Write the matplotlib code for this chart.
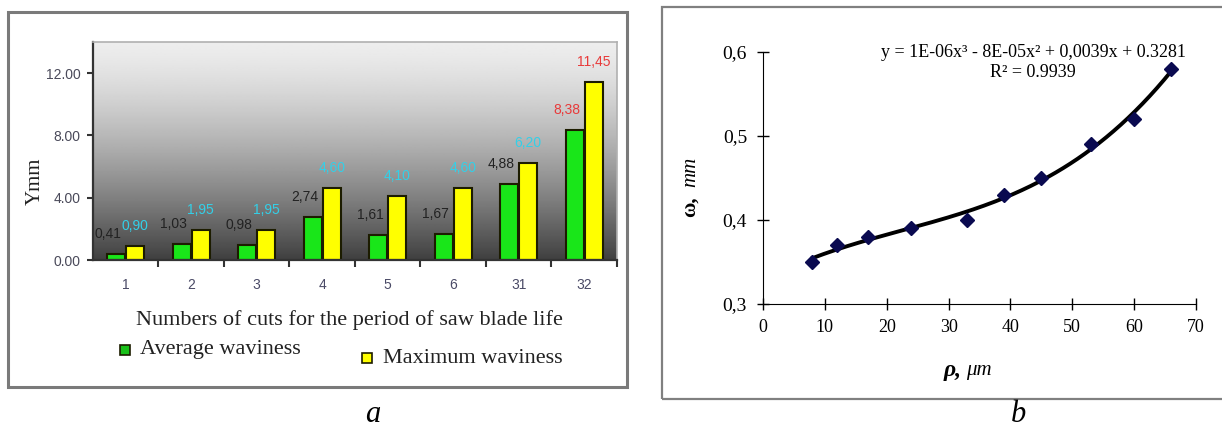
import numpy as np
import matplotlib
matplotlib.use('Agg')
import matplotlib.pyplot as plt
from matplotlib import font_manager
from matplotlib.patches import Rectangle

# --- panel a: waviness per number of cuts
cuts = ['1', '2', '3', '4', '5', '6', '31', '32']
avg_wav = [0.41, 1.03, 0.98, 2.74, 1.61, 1.67, 4.88, 8.38]
max_wav = [0.90, 1.95, 1.95, 4.60, 4.10, 4.60, 6.20, 11.45]
avg_lbl = ['0,41', '1,03', '0,98', '2,74', '1,61', '1,67', '4,88', '8,38']
max_lbl = ['0,90', '1,95', '1,95', '4,60', '4,10', '4,60', '6,20', '11,45']
y_ticks_a = [0, 4, 8, 12]
y_ticklabels_a = ['0.00', '4.00', '8.00', '12.00']

# --- panel b: omega vs rho
rho = [8, 12, 17, 24, 33, 39, 45, 53, 60, 66]
omega = [0.35, 0.37, 0.38, 0.39, 0.40, 0.43, 0.45, 0.49, 0.52, 0.58]
y_ticks_b = [0.3, 0.4, 0.5, 0.6]
y_ticklabels_b = ['0,3', '0,4', '0,5', '0,6']
x_ticks_b = [0, 10, 20, 30, 40, 50, 60, 70]

names = {f.name for f in font_manager.fontManager.ttflist}
narrow = 'Liberation Sans Narrow' if 'Liberation Sans Narrow' in names else 'Liberation Sans'
serif = ['Liberation Serif', 'DejaVu Serif']

fig = plt.figure(figsize=(12.22, 4.37), dpi=100)

# frames around both panels
fig.patches.append(Rectangle((0.0066, 0.1144), 0.5065, 0.858, transform=fig.transFigure,
                             fill=False, edgecolor='#7a7a7a', linewidth=2.2))
fig.patches.append(Rectangle((0.5417, 0.087), 0.47, 0.897, transform=fig.transFigure,
                             fill=False, edgecolor='#808080', linewidth=1.6))

# ---------------- panel a
ax = fig.add_axes([0.0761, 0.405, 0.4288, 0.4989])
t = np.linspace(0, 1, 256)
grad = (0.93 - 0.68 * t ** 1.4)[:, None]
ax.imshow(grad, cmap='gray', vmin=0, vmax=1, extent=[0, 1, 0, 1], transform=ax.transAxes,
          aspect='auto', zorder=0)

x = np.arange(len(cuts))
w = 0.28
ax.bar(x - 0.145, avg_wav, w, color='#19e619', edgecolor='#1c1c00', linewidth=1.5, zorder=2)
ax.bar(x + 0.145, max_wav, w, color='#ffff00', edgecolor='#1c1c00', linewidth=1.5, zorder=2)

for i in range(len(cuts)):
    c1 = '#e83a3a' if i == len(cuts) - 1 else '#222222'
    c2 = '#e83a3a' if i == len(cuts) - 1 else '#33d0e8'
    ax.annotate(avg_lbl[i], (x[i] - 0.145, avg_wav[i]), xytext=(-8, 13), textcoords='offset pixels',
                ha='center', va='bottom', fontsize=10, color=c1, family=narrow, zorder=3)
    ax.annotate(max_lbl[i], (x[i] + 0.145, max_wav[i]), xytext=(0, 13), textcoords='offset pixels',
                ha='center', va='bottom', fontsize=10, color=c2, family=narrow, zorder=3)

ax.set_xlim(-0.5, len(cuts) - 0.5)
ax.set_ylim(0, 14)
ax.set_xticks(x)
ax.set_xticklabels(cuts, family=narrow, fontsize=10, color='#4a4a66')
ax.set_xticks(np.arange(len(cuts)) + 0.5, minor=True)
ax.tick_params(axis='x', which='major', length=0, pad=13)
ax.tick_params(axis='x', which='minor', length=5, width=1.5, color='#333333', direction='out')
ax.set_yticks(y_ticks_a)
ax.set_yticklabels(y_ticklabels_a, family=narrow, fontsize=10, color='#4a4a5a')
ax.tick_params(axis='y', length=4, width=1.5, color='#333333', pad=5)
for s in ['left', 'bottom']:
    ax.spines[s].set_color('#333333')
    ax.spines[s].set_linewidth(1.6)
for s in ['top', 'right']:
    ax.spines[s].set_color('#b0b0b0')
    ax.spines[s].set_linewidth(1.2)

ax.text(-0.11, 0.36, 'Ymm', rotation=90, transform=ax.transAxes, ha='center', va='center',
        family=serif, fontsize=15, color='#222222')
ax.text(0.489, -0.275, 'Numbers of cuts for the period of saw blade life', transform=ax.transAxes,
        ha='center', va='center', family=serif, fontsize=16, color='#222222')
ax.plot([0.061], [-0.413], 's', ms=7, mfc='#19c019', mec='#1c1c00', mew=1.2,
        transform=ax.transAxes, clip_on=False)
ax.text(0.09, -0.41, 'Average waviness', transform=ax.transAxes, ha='left', va='center',
        family=serif, fontsize=16, color='#222222')
ax.plot([0.523], [-0.45], 's', ms=7, mfc='#ffff00', mec='#1c1c00', mew=1.2,
        transform=ax.transAxes, clip_on=False)
ax.text(0.553, -0.45, 'Maximum waviness', transform=ax.transAxes, ha='left', va='center',
        family=serif, fontsize=16, color='#222222')

# ---------------- panel b
bx = fig.add_axes([0.6244, 0.3043, 0.3543, 0.5767])
bx.plot(rho, omega, 'D', ms=7, color='#0a0a50', zorder=3)
coef = np.polyfit(rho, omega, 3)
xs = np.linspace(min(rho), max(rho), 200)
bx.plot(xs, np.polyval(coef, xs), color='black', linewidth=2.8, zorder=2)

bx.set_xlim(0, 70)
bx.set_ylim(0.3, 0.6)
bx.set_xticks(x_ticks_b)
bx.set_xticklabels([str(v) for v in x_ticks_b], family=serif, fontsize=13)
bx.set_yticks(y_ticks_b)
bx.set_yticklabels(y_ticklabels_b, family=serif, fontsize=14)
bx.tick_params(axis='both', direction='inout', length=9, width=1)
bx.tick_params(axis='y', pad=7)
bx.tick_params(axis='x', pad=6)
bx.spines['top'].set_visible(False)
bx.spines['right'].set_visible(False)
bx.patch.set_alpha(0)

bx.text(0.624, 1.0, 'y = 1E-06x³ - 8E-05x² + 0,0039x + 0.3281', transform=bx.transAxes,
        ha='center', va='center', family=serif, fontsize=13)
bx.text(0.624, 0.92, 'R² = 0.9939', transform=bx.transAxes, ha='center', va='center',
        family=serif, fontsize=13)

bx.text(-0.166, 0.345, 'ω,', rotation=90, transform=bx.transAxes, ha='center', va='bottom',
        family=serif, fontsize=15, fontweight='bold')
bx.text(-0.166, 0.465, 'mm', rotation=90, transform=bx.transAxes, ha='center', va='bottom',
        family=serif, fontsize=15, fontstyle='italic')
bx.text(0.458, -0.262, 'ρ,', transform=bx.transAxes, ha='right', va='center',
        family=serif, fontsize=17, fontweight='bold', fontstyle='italic')
bx.text(0.468, -0.262, 'μm', transform=bx.transAxes, ha='left', va='center',
        family=serif, fontsize=15, fontstyle='italic')

fig.text(373 / 1222, 1 - 414 / 437, 'a', ha='center', va='center', family=serif,
         fontsize=22, fontstyle='italic')
fig.text(1018 / 1222, 1 - 414 / 437, 'b', ha='center', va='center', family=serif,
         fontsize=22, fontstyle='italic')

fig.savefig('out.png', dpi=100)
